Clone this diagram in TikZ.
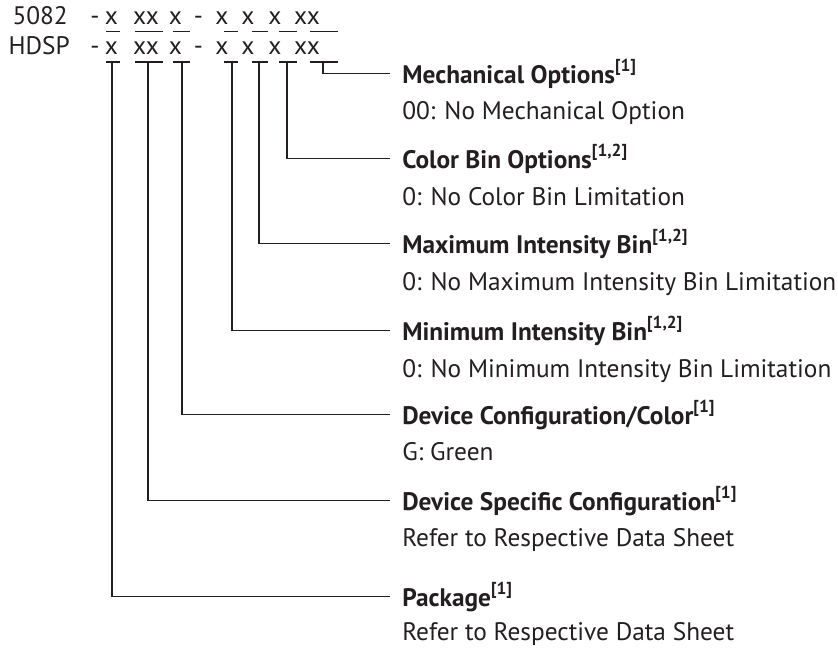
\documentclass[tikz,border=0pt]{standalone}
\usepackage{fontspec}
\setmainfont{PT Sans}
\definecolor{ink}{HTML}{231F20}
\begin{document}
\begin{tikzpicture}[x=0.75pt,y=-0.75pt]
\tikzset{
  ln/.style={draw=ink, line width=0.9pt},
  ttl/.style={anchor=mid west, inner xsep=9pt, inner ysep=0pt, font=\fontsize{19}{23}\selectfont\bfseries, text=ink},
  dsc/.style={anchor=base west, inner sep=0pt, font=\fontsize{19}{23}\selectfont, text=ink},
  pn/.style={anchor=base, inner sep=0pt, font=\fontsize{19}{23}\selectfont, text=ink}
}
\newcommand{\ftn}[1]{\raisebox{0.48em}{\fontsize{13}{13}\selectfont #1}}
\useasboundingbox (0,0) rectangle (838,649);

% part number rows
\node[pn, anchor=base east] (r1) at (68,25) {5082};
\node[pn, anchor=base east] (r2) at (70,55) {HDSP};
\foreach \y/\r in {25/a,55/b}{
  \node[pn] (\r d1) at (95,\y) {-};
  \node[pn] (\r x1) at (111.5,\y) {x};
  \node[pn] (\r x2) at (146,\y) {xx};
  \node[pn] (\r x3) at (175.5,\y) {x};
  \node[pn] (\r d2) at (198.5,\y) {-};
  \node[pn] (\r x4) at (222,\y) {x};
  \node[pn] (\r x5) at (248,\y) {x};
  \node[pn] (\r x6) at (275,\y) {x};
  \node[pn] (\r x7) at (307,\y) {xx};
}
% underlines
\foreach \y in {31.5,62}{
  \draw[ln] (106,\y) -- (120,\y);
  \draw[ln] (135,\y) -- (163,\y);
  \draw[ln] (173,\y) -- (190,\y);
  \draw[ln] (224,\y) -- (238,\y);
  \draw[ln] (252,\y) -- (268,\y);
  \draw[ln] (279,\y) -- (297,\y);
  \draw[ln] (310,\y) -- (338,\y);
}
\coordinate (u1) at (112,62);
\coordinate (u2) at (148,62);
\coordinate (u3) at (182,62);
\coordinate (u4) at (232,62);
\coordinate (u5) at (259,62);
\coordinate (u6) at (287,62);
\coordinate (u7) at (323,62);

% titles and descriptions
\node[ttl] (t7) at (390,80)  {Mechanical Options\ftn{[1]}};
\node[dsc] (d7) at (402,120) {00: No Mechanical Option};
\node[ttl] (t6) at (390,165) {Color Bin Options\ftn{[1,2]}};
\node[dsc] (d6) at (402,205) {0: No Color Bin Limitation};
\node[ttl] (t5) at (390,250) {Maximum Intensity Bin\ftn{[1,2]}};
\node[dsc] (d5) at (402,290) {0: No Maximum Intensity Bin Limitation};
\node[ttl] (t4) at (390,337) {Minimum Intensity Bin\ftn{[1,2]}};
\node[dsc] (d4) at (402,377) {0: No Minimum Intensity Bin Limitation};
\node[ttl] (t3) at (390,421) {Device Configuration/Color\ftn{[1]}};
\node[dsc] (d3) at (402,460) {G: Green};
\node[ttl] (t2) at (390,507) {Device Specific Configuration\ftn{[1]}};
\node[dsc] (d2) at (402,546) {Refer to Respective Data Sheet};
\node[ttl] (t1) at (390,603) {Package\ftn{[1]}};
\node[dsc] (d1) at (402,640) {Refer to Respective Data Sheet};

% connectors
\foreach \i in {1,...,7}{
  \draw[ln] (u\i) |- (t\i.west);
}
\end{tikzpicture}
\end{document}
